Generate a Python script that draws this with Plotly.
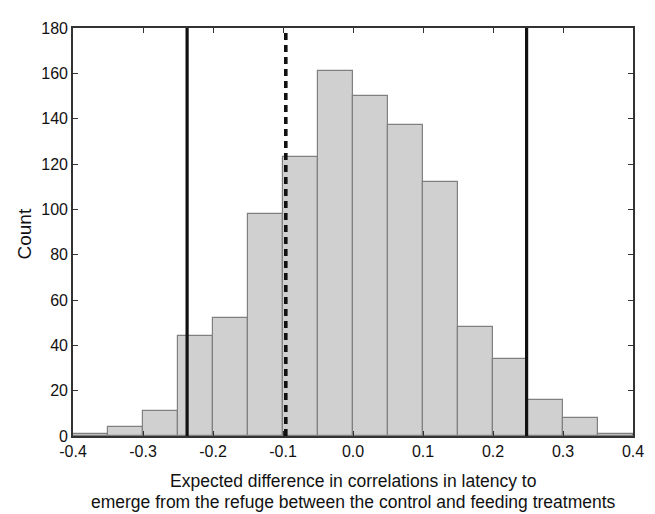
import plotly.graph_objects as go

bin_left = [-0.40, -0.35, -0.30, -0.25, -0.20, -0.15, -0.10, -0.05,
            0.00, 0.05, 0.10, 0.15, 0.20, 0.25, 0.30, 0.35]
bin_width = 0.05
counts = [1, 4, 11, 44, 52, 98, 123, 161, 150, 137, 112, 48, 34, 16, 8, 1]

solid_lines = [-0.237, 0.248]
dashed_lines = [-0.096]

x_ticks = [-0.4, -0.3, -0.2, -0.1, 0.0, 0.1, 0.2, 0.3, 0.4]
x_tick_labels = ["-0.4", "-0.3", "-0.2", "-0.1", "0.0", "0.1", "0.2", "0.3", "0.4"]
y_ticks = [0, 20, 40, 60, 80, 100, 120, 140, 160, 180]

x_title_lines = ["Expected difference in correlations in latency to",
                 "emerge from the refuge between the control and feeding treatments"]
y_title = "Count"

centers = [b + bin_width / 2 for b in bin_left]

fig = go.Figure()
fig.add_trace(go.Bar(
    x=centers, y=counts, width=[bin_width] * len(counts),
    marker=dict(color="#d0d0d0", line=dict(color="#808080", width=1.2)),
    showlegend=False,
))

for xv in solid_lines:
    fig.add_shape(type="line", x0=xv, x1=xv, y0=0, y1=1, yref="paper",
                  line=dict(color="#111111", width=3.2))
for xv in dashed_lines:
    fig.add_shape(type="line", x0=xv, x1=xv, y0=0, y1=1, yref="paper",
                  line=dict(color="#111111", width=3.6, dash="7px,5px"))

font_family = "Liberation Sans, Arial, sans-serif"
plot_w, plot_h = 560, 415

# x-axis title lines (two separate lines for tight spacing)
for line, dy in zip(x_title_lines, [46, 67]):
    fig.add_annotation(text=line, xref="paper", yref="paper", x=0.5, y=-dy / plot_h,
                       xanchor="center", yanchor="middle", showarrow=False,
                       font=dict(size=17.5, family=font_family, color="#111111"))
fig.add_annotation(text=y_title, xref="paper", yref="paper", x=-48.5 / plot_w, y=0.495,
                   xanchor="center", yanchor="middle", showarrow=False, textangle=-90,
                   font=dict(size=19, family=font_family, color="#111111"))

fig.update_layout(
    width=655, height=514,
    margin=dict(l=65, r=30, t=13, b=86),
    plot_bgcolor="white", paper_bgcolor="white",
    font=dict(family=font_family, size=16, color="#111111"),
    bargap=0,
    xaxis=dict(
        range=[-0.4, 0.4], tickvals=x_ticks, ticktext=x_tick_labels,
        ticks="inside", ticklen=5, tickcolor="#333333", tickwidth=1.3,
        showline=True, linecolor="#333333", linewidth=1.6, mirror="ticks",
        showgrid=False, zeroline=False,
        tickfont=dict(size=16),
    ),
    yaxis=dict(
        range=[0, 180], tickvals=y_ticks,
        ticks="inside", ticklen=5, tickcolor="#333333", tickwidth=1.3,
        showline=True, linecolor="#333333", linewidth=1.6, mirror="ticks",
        showgrid=False, zeroline=False,
        tickfont=dict(size=16),
    ),
)

fig.write_html("out.html")
